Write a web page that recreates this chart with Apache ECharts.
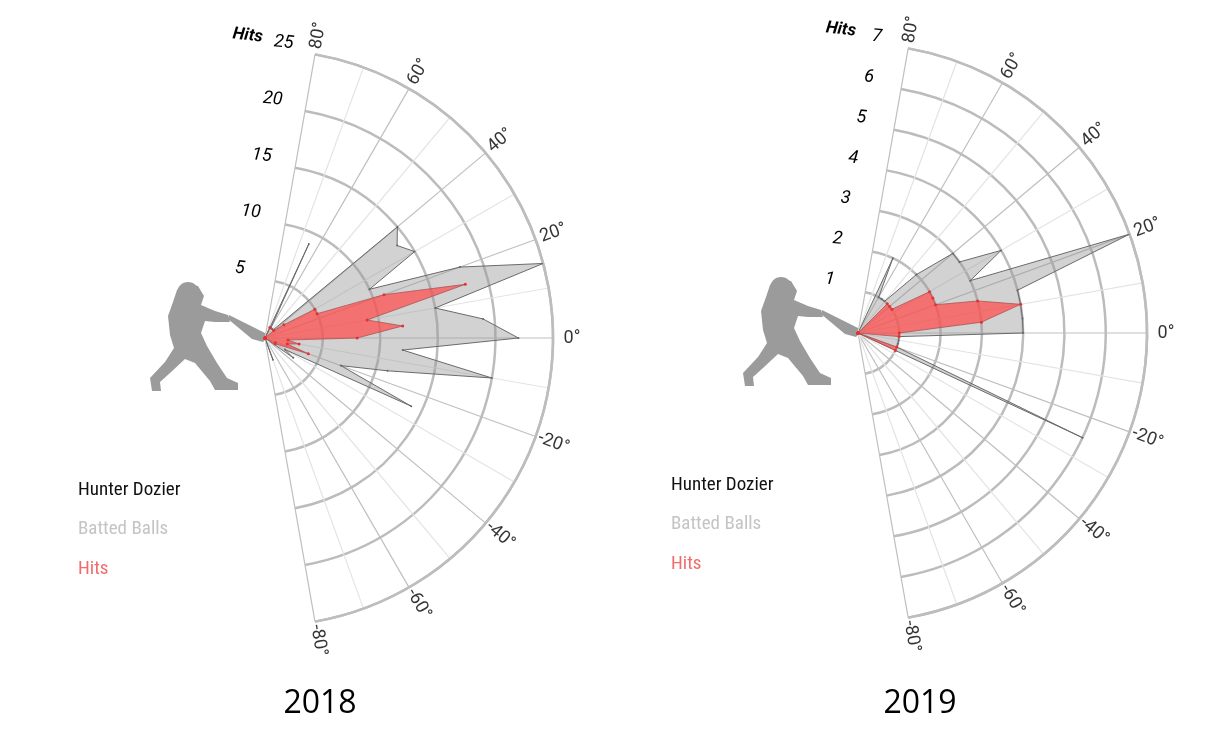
<!DOCTYPE html>
<html>
<head>
<meta charset="utf-8">
<title>Hunter Dozier launch angles</title>
<script src="https://cdn.jsdelivr.net/npm/echarts@6/dist/echarts.min.js"></script>
<style>
html, body { margin: 0; padding: 0; background: #fff; }
#chart { width: 1221px; height: 748px; }
</style>
</head>
<body>
<div id="chart"></div>
<script>
// launch angle bins (degrees)
const angles = [-80, -75, -70, -65, -60, -55, -50, -45, -40, -35, -30, -25, -20, -15, -10, -5,
  0, 5, 10, 15, 20, 25, 30, 35, 40, 45, 50, 55, 60, 65, 70, 75, 80];

const batted2018 = [0, 0, 2, 0, 0, 0, 0, 0, 0, 3, 2, 14, 7, 11, 20, 12,
  22, 19, 15, 25, 18, 10, 15, 14, 15, 1, 1, 1, 1, 9, 0, 0, 0];
const hits2018 = [0, 0, 0, 0, 0, 0, 0, 0, 0, 0, 1, 1, 4, 2, 3, 2,
  8, 12, 9, 18, 11, 5, 5, 2, 1, 0, 0, 0, 0, 1, 0, 0, 0];

const batted2019 = [0, 0, 0, 0, 0, 0, 0, 0, 0, 0, 0, 6, 1, 1, 1, 1,
  4, 4, 4, 4, 7, 3, 4, 3, 3, 2, 1, 1, 1, 2, 0, 0, 0];
const hits2019 = [0, 0, 0, 0, 0, 0, 0, 0, 0, 0, 0, 1, 1, 0, 0, 1,
  1, 3, 4, 3, 2, 2, 2, 1, 1, 1, 0, 0, 0, 0, 0, 0, 0];

const angleTicks = [-80, -60, -40, -20, 0, 20, 40, 60, 80];
const radiusTicks2018 = [5, 10, 15, 20, 25];
const radiusTicks2019 = [1, 2, 3, 4, 5, 6, 7];

const legendNames = ['Hunter Dozier', 'Batted Balls', 'Hits'];
const legendColors = ['#111111', '#c4c4c4', '#f26a6a'];

const panels = [
  {year: '2018', center: [265, 338], radius: 288, max: 25, interval: 5,
    ticks: radiusTicks2018, batted: batted2018, hits: hits2018, titleX: 320},
  {year: '2019', center: [858, 333], radius: 289, max: 7, interval: 1,
    ticks: radiusTicks2019, batted: batted2019, hits: hits2019, titleX: 920}
];

const narrow = "'Liberation Sans Narrow', 'Roboto Condensed', Roboto, sans-serif";

// batter silhouette, relative to the tip of the bat
const batterBody = [[-92, -36], [-88, -48], [-78, -54], [-67, -52], [-61, -42], [-64, -33],
  [-50, -27], [-37, -23], [-35, -16], [-50, -16], [-60, -17], [-64, -5], [-58, 8], [-48, 25],
  [-38, 40], [-27, 45], [-27, 52], [-50, 52], [-55, 43], [-70, 25], [-80, 21], [-95, 35],
  [-105, 44], [-104, 53], [-113, 53], [-115, 40], [-100, 24], [-91, 10], [-95, -3], [-97, -22]];
const batterBat = [[-37, -19], [-36, -23], [-12, -11], [0, -5], [2, 0], [-2, 4], [-13, 1]];

const chart = echarts.init(document.getElementById('chart'), null, {renderer: 'canvas'});

const polar = [], angleAxis = [], radiusAxis = [], series = [], graphic = [];

panels.forEach(function (p, i) {
  polar.push({center: p.center, radius: p.radius});
  angleAxis.push({
    polarIndex: i, type: 'value', min: -80, max: 80, interval: 10,
    startAngle: -80, endAngle: 80, clockwise: false,
    axisLine: {show: true, lineStyle: {color: '#bdbdbd', width: 2.5}},
    axisTick: {show: false},
    axisLabel: {show: false},
    splitLine: {show: true, lineStyle: {color: ['#bfbfbf', '#e4e4e4'], width: 1.2}}
  });
  radiusAxis.push({
    polarIndex: i, type: 'value', min: 0, max: p.max, interval: p.interval,
    axisLine: {show: false}, axisTick: {show: false}, axisLabel: {show: false},
    splitLine: {show: true, lineStyle: {color: '#bcbcbc', width: 2.5}}
  });

  series.push({
    type: 'line', name: 'Batted Balls', coordinateSystem: 'polar', polarIndex: i,
    data: angles.map((a, k) => [p.batted[k], a]),
    symbol: 'circle', symbolSize: 2, itemStyle: {color: '#666'},
    lineStyle: {color: '#6a6a6a', width: 1},
    areaStyle: {color: 'rgba(150,150,150,0.43)', opacity: 1},
    silent: true, animation: false, z: 2
  });
  series.push({
    type: 'line', name: 'Hits', coordinateSystem: 'polar', polarIndex: i,
    data: angles.map((a, k) => [p.hits[k], a]),
    symbol: 'circle', symbolSize: 3, itemStyle: {color: '#e83030'},
    lineStyle: {color: '#a85555', width: 0.8},
    areaStyle: {color: 'rgba(255,75,75,0.72)', opacity: 1},
    silent: true, animation: false, z: 3
  });
  // angle labels, turned along the ray
  series.push({
    type: 'scatter', coordinateSystem: 'polar', polarIndex: i, clip: false,
    symbolSize: 0, silent: true, animation: false,
    data: angleTicks.map(a => ({value: [p.max * (1 + 19 / p.radius), a], label: {rotate: a}})),
    label: {
      show: true, position: 'inside', formatter: d => d.value[1] + '°',
      color: '#000', fontSize: 18, fontFamily: 'Roboto'
    }
  });

  const cx = p.center[0], cy = p.center[1];

  // radius tick labels
  let last = null;
  p.ticks.forEach(function (v) {
    const r = v / p.max * p.radius;
    last = {x: cx - 36 + 0.19 * r, y: cy - 13 - 0.98 * r};
    graphic.push({
      type: 'text', x: last.x, y: last.y, rotation: -0.1, silent: true,
      style: {text: String(v), fill: '#000', fontSize: 18, fontStyle: 'italic',
        fontFamily: 'Roboto', align: 'center', verticalAlign: 'middle'}
    });
  });
  graphic.push({
    type: 'text', x: last.x - 36, y: last.y - 7, rotation: -0.12, silent: true,
    style: {text: 'Hits', fill: '#000', fontSize: 17, fontStyle: 'italic', fontWeight: 'bold',
      fontFamily: 'Roboto', align: 'center', verticalAlign: 'middle'}
  });

  // legend block
  legendNames.forEach(function (name, k) {
    graphic.push({
      type: 'text', x: cx - 187, y: cy + 152 + k * 39.5, silent: true,
      style: {text: name, fill: legendColors[k], fontSize: 19, fontFamily: narrow,
        align: 'left', verticalAlign: 'middle'}
    });
  });

  // batter
  graphic.push({
    type: 'group', x: cx, y: cy, silent: true,
    children: [
      {type: 'polygon', shape: {points: batterBody}, style: {fill: '#9b9b9b'}},
      {type: 'circle', shape: {cx: -77, cy: -45, r: 11}, style: {fill: '#9b9b9b'}},
      {type: 'polygon', shape: {points: batterBat}, style: {fill: '#9b9b9b'}}
    ]
  });

  // year title
  graphic.push({
    type: 'text', x: p.titleX, y: 704, silent: true,
    style: {text: p.year, fill: '#000', fontSize: 32, fontFamily: "'Open Sans', 'Noto Sans', sans-serif",
      align: 'center', verticalAlign: 'middle'}
  });
});

chart.setOption({
  backgroundColor: '#ffffff',
  animation: false,
  polar: polar,
  angleAxis: angleAxis,
  radiusAxis: radiusAxis,
  series: series,
  graphic: graphic
});
</script>
</body>
</html>
